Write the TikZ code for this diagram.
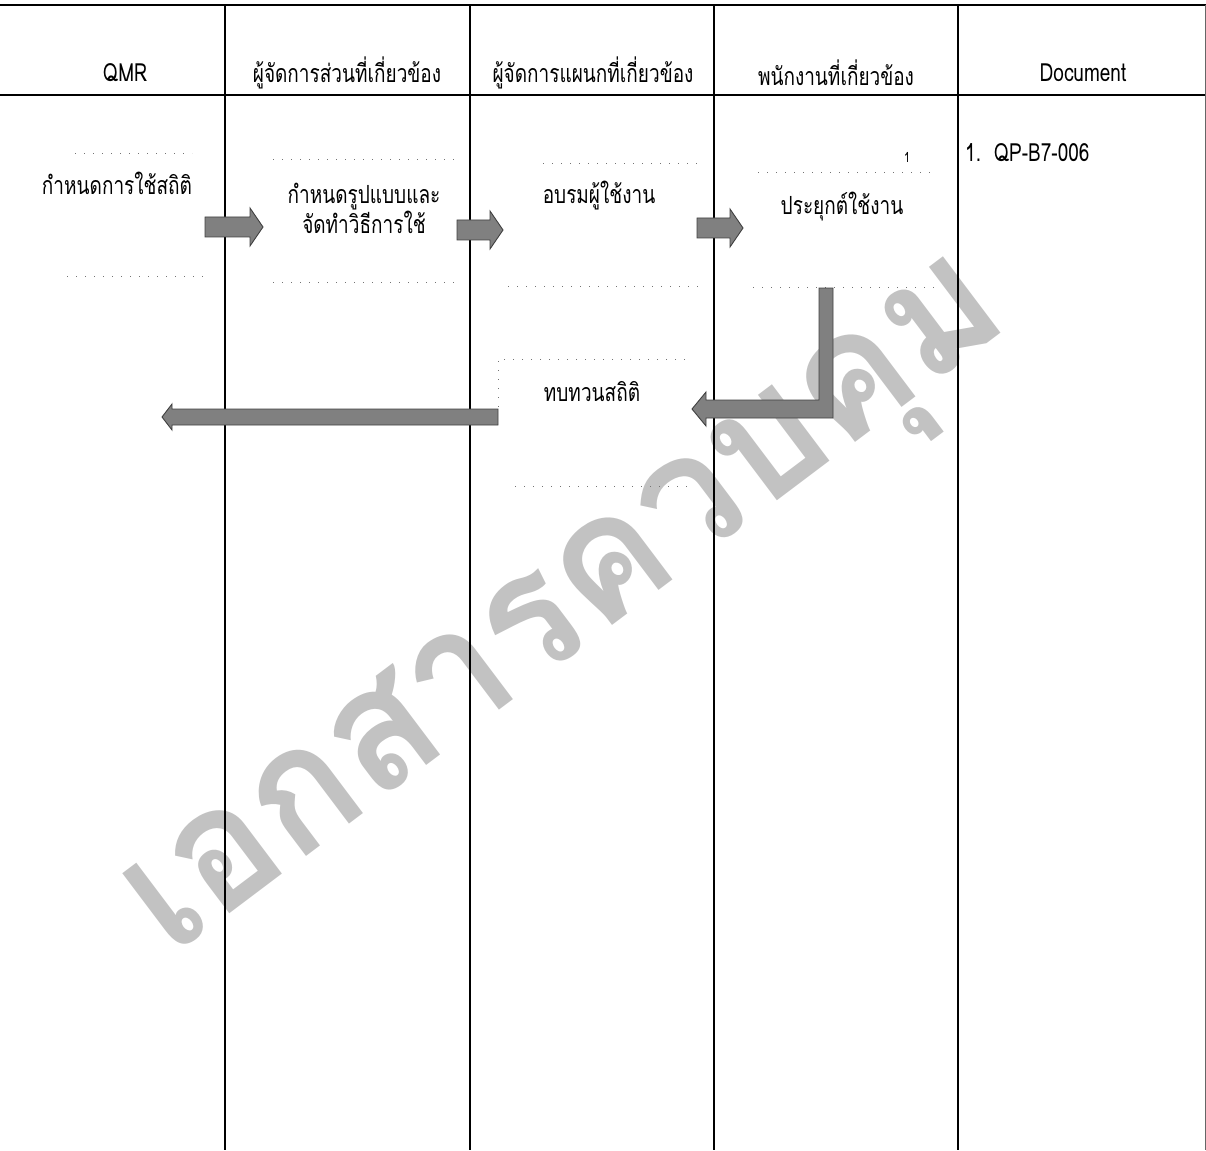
\documentclass[tikz,border=0pt]{standalone}
\usepackage{fontspec}
\setmainfont[Script=Thai,FakeStretch=0.76]{Loma}
\newfontfamily\wmfont[Script=Thai]{Loma}
\usetikzlibrary{calc}
\tikzset{
  grid/.style={line width=1.1pt, black},
  hdr/.style={font=\fontsize{25}{28}\selectfont, anchor=center, inner sep=0pt},
  stepbox/.style={font=\fontsize{25}{28}\selectfont, align=center, inner sep=0pt},
  dotline/.style={black!55, line width=0.8pt, dash pattern=on 1pt off 8pt},
  barrow/.style={fill=black!50, draw=black!75, line width=0.9pt, line join=miter},
  wm/.style={text=black!24, font=\wmfont\bfseries\fontsize{172}{172}\selectfont, inner sep=0pt}
}
\newcommand\harrow[5]{% start, end, half body, half head, head length (signed)
  \filldraw[barrow] let \p1=(#1), \p2=(#2) in
    (\x1,\y1+#3) -- (\x2-#5,\y1+#3) -- (\x2-#5,\y1+#4) -- (\x2,\y1)
    -- (\x2-#5,\y1-#4) -- (\x2-#5,\y1-#3) -- (\x1,\y1-#3) -- cycle;}
\begin{document}
\begin{tikzpicture}[x=1pt,y=-1pt]
\useasboundingbox (0,0) rectangle (1206,1150);
% watermark
\node[wm, rotate=37, xscale=0.95] (wm) at (575,618) {เอกสารควบคุม};
% table grid
\coordinate (tl) at (0,5); \coordinate (tr) at (1206,5);
\coordinate (hl) at (0,95); \coordinate (hr) at (1206,95);
\draw[grid] (tl) -- (tr);
\draw[grid] (hl) -- (hr);
\foreach \x/\n in {225/c1,470/c2,714/c3,958/c4}{
  \coordinate (\n t) at (\x,5); \coordinate (\n b) at (\x,1150);
  \draw[grid] (\n t) -- (\n b);}
\coordinate (c5t) at (1205,5); \coordinate (c5b) at (1205,1150);
\draw[black!60, line width=0.6pt] (c5t) -- (c5b);
% headers
\node[hdr] (h1) at (125,73) {QMR};
\node[hdr] (h2) at (347,73) {ผู้จัดการส่วนที่เกี่ยวข้อง};
\node[hdr] (h3) at (593,73) {ผู้จัดการแผนกที่เกี่ยวข้อง};
\node[hdr] (h4) at (836,73) {พนักงานที่เกี่ยวข้อง};
\node[hdr] (h5) at (1083,73) {Document};
% dotted box edges
\draw[dotline] (75,153) -- (192,153);
\draw[dotline] (67,276) -- (210,276);
\draw[dotline] (273,159) -- (456,159);
\draw[dotline] (273,282) -- (456,282);
\draw[dotline] (543,163) -- (698,163);
\draw[dotline] (508,286) -- (698,286);
\draw[dotline] (758,172) -- (937,172);
\draw[dotline] (753,287) -- (935,287);
\draw[dotline] (685,359) -- (498,359) -- (498,407);
\draw[dotline] (515,486) -- (690,486);
% steps
\node[stepbox] (s1) at (117,183) {กำหนดการใช้สถิติ};
\node[stepbox] (s2) at (364,208) {กำหนดรูปแบบและ\\จัดทำวิธีการใช้};
\node[stepbox] (s3) at (599,196) {อบรมผู้ใช้งาน};
\node[stepbox] (s4) at (842,207) {ประยุกต์ใช้งาน};
\node[stepbox] (s5) at (592,392) {ทบทวนสถิติ};
\node[font=\fontsize{14}{16}\selectfont, inner sep=0pt] (n1) at (907,157) {1};
\node[font=\fontsize{25}{28}\selectfont, anchor=west, inner sep=0pt] (d1) at (965,153) {1.\ \ QP-B7-006};
% block arrows
\coordinate (a1s) at (205,227); \coordinate (a1e) at (263,227);
\harrow{a1s}{a1e}{10pt}{19pt}{13pt}
\coordinate (a2s) at (457,230); \coordinate (a2e) at (503,230);
\harrow{a2s}{a2e}{10pt}{19pt}{13pt}
\coordinate (a3s) at (697,228); \coordinate (a3e) at (743,228);
\harrow{a3s}{a3e}{10pt}{19pt}{13pt}
\coordinate (a4s) at (498,417); \coordinate (a4e) at (162,417);
\harrow{a4s}{a4e}{8pt}{13pt}{-10pt}
% bent arrow from s4 back to s5
\filldraw[barrow] (819,288) -- (833,288) -- (833,418) -- (706,418) -- (706,426)
  -- (692,409) -- (706,392) -- (706,400) -- (819,400) -- cycle;
\end{tikzpicture}
\end{document}
